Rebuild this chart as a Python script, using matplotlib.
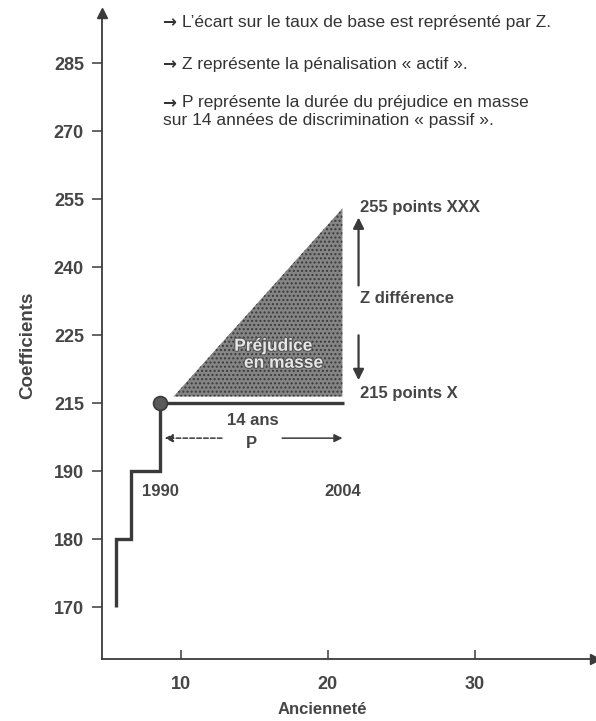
import numpy as np
import matplotlib
matplotlib.use("Agg")
import matplotlib.pyplot as plt
from matplotlib.patches import Polygon
import matplotlib.patheffects as pe

# ---- data ----
y_tick_values = [170, 180, 190, 215, 225, 240, 255, 270, 285]
x_tick_values = [10, 20, 30]
step_x = [5.6, 5.6, 6.6, 6.6, 8.6, 8.6]
step_y = [170, 180, 180, 190, 190, 215]
flat_x = [8.6, 21.1]
flat_y = [215, 215]
start_point = (8.6, 215)
triangle_x = [9.5, 21.0, 21.0]
triangle_y = [216, 253, 216]
year_labels = ["1990", "2004"]
year_x = [8.6, 21.0]
top_notes = [
    "L\u2019\u00e9cart sur le taux de base est repr\u00e9sent\u00e9 par Z.",
    "Z repr\u00e9sente la p\u00e9nalisation \u00ab actif \u00bb.",
    "P repr\u00e9sente la dur\u00e9e du pr\u00e9judice en masse",
    "sur 14 ann\u00e9es de discrimination \u00ab passif \u00bb.",
]
note_has_arrow = [True, True, True, False]

FONT = ["Liberation Sans", "DejaVu Sans"]
plt.rcParams["font.family"] = FONT
INK = "#3a3a3a"
TXT = "#454545"

tv = np.array(y_tick_values, float)
tp = np.arange(len(tv), dtype=float)


def fwd(v):
    v = np.asarray(v, float)
    p = np.interp(v, tv, tp)
    p = np.where(v < tv[0], (v - tv[0]) / (tv[1] - tv[0]), p)
    p = np.where(v > tv[-1], tp[-1] + (v - tv[-1]) / (tv[-1] - tv[-2]), p)
    return p


def inv(p):
    p = np.asarray(p, float)
    v = np.interp(p, tp, tv)
    v = np.where(p < 0, tv[0] + p * (tv[1] - tv[0]), v)
    v = np.where(p > tp[-1], tv[-1] + (p - tp[-1]) * (tv[-1] - tv[-2]), v)
    return v


fig = plt.figure(figsize=(5.96, 7.21), dpi=100)
ax = fig.add_axes([102 / 596, 62 / 721, 493 / 596, 646 / 721])
ax.set_yscale("function", functions=(fwd, inv))
ax.set_xlim(4.63, 38.2)
ax.set_ylim(inv(-0.76), inv(8.74))

for s in ["top", "right"]:
    ax.spines[s].set_visible(False)
for s in ["left", "bottom"]:
    ax.spines[s].set_color(INK)
    ax.spines[s].set_linewidth(1.3)
ax.plot(1, 0, ">", transform=ax.transAxes, clip_on=False, ms=7, color=INK)
ax.plot(0, 1, "^", transform=ax.transAxes, clip_on=False, ms=7, color=INK)

ax.set_yticks(y_tick_values)
ax.set_yticklabels([str(v) for v in y_tick_values])
ax.yaxis.set_minor_locator(matplotlib.ticker.NullLocator())
ax.tick_params(axis="y", direction="out", length=7, width=1.1, color=INK,
               pad=6, labelsize=13, labelcolor=TXT)
ax.set_xticks(x_tick_values)
ax.set_xticklabels([str(v) for v in x_tick_values])
ax.tick_params(axis="x", direction="in", length=6.5, width=1.1, color=INK,
               pad=12, labelsize=13, labelcolor=TXT)
for lab in ax.get_xticklabels() + ax.get_yticklabels():
    lab.set_fontweight("bold")

fig.text(28 / 596, 1 - 345 / 721, "Coefficients", rotation=90, ha="center",
         va="center", fontsize=13.5, fontweight="bold", color=TXT)
fig.text(322 / 596, 1 - 709 / 721, "Ancienneté", ha="center", va="center",
         fontsize=12, fontweight="bold", color=TXT)

# stippled triangle
tri = Polygon(list(zip(triangle_x, triangle_y)), closed=True,
              facecolor="#858585", edgecolor="#3a3a3a", hatch="....",
              linewidth=0)
ax.add_patch(tri)
ax.text(16.3, 223.4, "Préjudice", ha="center", va="center", fontsize=12.5,
        fontweight="bold", color="#e6e6e6",
        path_effects=[pe.withStroke(linewidth=1.5, foreground="#555555")])
ax.text(17.0, 220.9, "en masse", ha="center", va="center", fontsize=12.5,
        fontweight="bold", color="#e6e6e6",
        path_effects=[pe.withStroke(linewidth=1.5, foreground="#555555")])

# step line and baseline
ax.plot(step_x, step_y, color=INK, lw=2.4, solid_joinstyle="miter",
        solid_capstyle="butt")
ax.plot(flat_x, flat_y, color=INK, lw=2.4, solid_capstyle="butt")
ax.plot([start_point[0]], [start_point[1]], "o", ms=10, color="#5a5a5a",
        mec=INK, mew=1.2, zorder=5)

# Z arrows
arrow_kw = dict(arrowstyle="-|>", color=INK, lw=1.6, mutation_scale=16,
                shrinkA=0, shrinkB=0)
ax.annotate("", xy=(22.1, 251), xytext=(22.1, 236), arrowprops=arrow_kw)
ax.annotate("", xy=(22.1, 218.4), xytext=(22.1, 225), arrowprops=arrow_kw)
# P arrows
p_kw = dict(arrowstyle="-|>", color=INK, lw=1.1, mutation_scale=12,
            shrinkA=0, shrinkB=0)
ax.annotate("", xy=(8.9, 202.2), xytext=(12.8, 202.2),
            arrowprops=dict(p_kw, linestyle=(0, (3, 1.5))))
ax.annotate("", xy=(21.0, 202.2), xytext=(16.9, 202.2), arrowprops=p_kw)

lab_kw = dict(fontsize=12, fontweight="bold", color=TXT)
ax.text(22.2, 253.2, "255 points XXX", ha="left", va="center", **lab_kw)
ax.text(22.2, 233.1, "Z différence", ha="left", va="center", **lab_kw)
ax.text(22.2, 216.5, "215 points X", ha="left", va="center", **lab_kw)
ax.text(14.9, 208.7, "14 ans", ha="center", va="center", **lab_kw)
ax.text(14.8, 200.3, "P", ha="center", va="center", **lab_kw)
for lbl, xv in zip(year_labels, year_x):
    ax.text(xv, 187.0, lbl, ha="center", va="center", **lab_kw)

note_y = [22, 64, 103, 121]
for txt, yy, arr in zip(top_notes, note_y, note_has_arrow):
    if arr:
        fig.text(162 / 596, 1 - yy / 721, "\u2192", ha="left", va="center",
                 fontsize=12, fontweight="bold", color="#333333",
                 family="DejaVu Sans")
        fig.text(182 / 596, 1 - yy / 721, txt, ha="left", va="center",
                 fontsize=12.5, color="#333333")
    else:
        fig.text(163 / 596, 1 - yy / 721, txt, ha="left", va="center",
                 fontsize=12.5, color="#333333")

fig.savefig("out.png", dpi=100)
